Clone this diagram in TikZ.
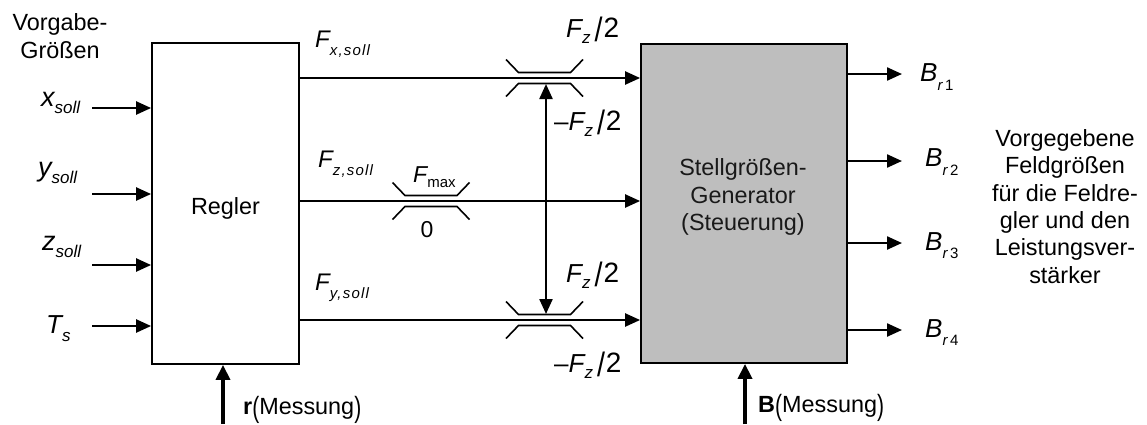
\documentclass[tikz,border=0pt]{standalone}
\usepackage{fontspec}
\setmainfont{Liberation Sans}
\usetikzlibrary{arrows.meta}
\newcommand{\lowsub}[2][-8pt]{\raisebox{#1}{\fontsize{15}{15}\selectfont #2}}
\newcommand{\wsub}[1]{{\addfontfeature{LetterSpace=8}#1}}
\newcommand{\bslash}{\raisebox{-4pt}{\scalebox{1.1}[1.3]{/}}}
\newcommand{\bparen}[1]{\raisebox{-3pt}{\scalebox{0.9}[1.25]{#1}}}
\newcommand{\halfF}{\itshape F\lowsub[-6pt]{\fontsize{17}{17}\selectfont z}\hspace{4pt}\upshape\bslash\hspace{1pt}{\fontsize{28}{28}\selectfont 2}}
\tikzset{
  box/.style={draw, line width=1.8pt, inner sep=0pt},
  arr/.style={line width=2.3pt, -{Triangle[length=15pt,width=13pt]}},
  darr/.style={line width=2.3pt, {Triangle[length=15pt,width=13pt]}-{Triangle[length=15pt,width=13pt]}},
  barr/.style={line width=3.6pt, -{Triangle[length=15pt,width=14pt]}},
  limline/.style={line width=1.6pt},
  lbl/.style={inner sep=0pt, anchor=base west, font=\fontsize{25}{25}\selectfont},
  txt/.style={inner sep=0pt, align=center, font=\fontsize{23.4}{27.4}\selectfont},
  limiter/.pic={
    \draw[limline] (-38.5,-18.5) -- (-26,-5.5) -- (26,-5.5) -- (38.5,-18.5);
    \draw[limline] (-38.5,18.5) -- (-26,5.5) -- (26,5.5) -- (38.5,18.5);
  }
}
\begin{document}
\begin{tikzpicture}[x=1pt,y=-1pt]
\useasboundingbox (0,0) rectangle (1147,424);

% boxes
\node[box, minimum width=147pt, minimum height=321pt] (regler) at (225.5,203.5) {};
\node[txt] (reglertxt) at (225.5,208) {Regler};
\node[box, fill={rgb,255:red,190;green,190;blue,190}, minimum width=206pt, minimum height=319pt] (stell) at (744,203.5) {};
\node[txt, text={rgb,255:red,25;green,25;blue,25}] (stelltxt) at (743,197) {Stellgrößen-\\Generator\\(Steuerung)};

% left inputs
\node[txt] (vorgabe) at (60,36) {Vorgabe-\\Größen};
\coordinate (xs) at (92,108);
\coordinate (ys) at (92,194);
\coordinate (zs) at (92,265);
\coordinate (ts) at (92,326);
\draw[arr] (xs) -- (xs -| regler.west);
\draw[arr] (ys) -- (ys -| regler.west);
\draw[arr] (zs) -- (zs -| regler.west);
\draw[arr] (ts) -- (ts -| regler.west);
\node[lbl, font=\fontsize{27}{27}\selectfont] (xl) at (41,106) {\itshape x\lowsub[-7pt]{\fontsize{17}{17}\selectfont soll}};
\node[lbl, font=\fontsize{27}{27}\selectfont] (yl) at (38,176) {\itshape y\lowsub[-7pt]{\fontsize{17}{17}\selectfont soll}};
\node[lbl, font=\fontsize{27}{27}\selectfont] (zl) at (42,250) {\itshape z\lowsub[-7pt]{\fontsize{17}{17}\selectfont soll}};
\node[lbl, font=\fontsize{26}{26}\selectfont] (tl) at (46,333) {\itshape T\lowsub[-8pt]{\fontsize{17}{17}\selectfont s}};

% limiters
\coordinate (limA) at (544.5,78);
\coordinate (limB) at (431,201);
\coordinate (limC) at (544.5,320);
\pic at (limA) {limiter};
\pic at (limB) {limiter};
\pic at (limC) {limiter};

% main signal lines
\draw[arr] (regler.east |- limA) -- (stell.west |- limA);
\draw[arr] (regler.east |- limB) -- (stell.west |- limB);
\draw[arr] (regler.east |- limC) -- (stell.west |- limC);
\coordinate (vA) at (546,84);
\coordinate (vC) at (546,314);
\draw[darr] (vA) -- (vC);

% F labels
\node[lbl, font=\fontsize{24}{24}\selectfont] (fx) at (315,47) {\itshape F\lowsub[-8.5pt]{\itshape\wsub{x,soll}}};
\node[lbl, font=\fontsize{24}{24}\selectfont] (fz) at (318,167) {\itshape F\lowsub[-8.5pt]{\itshape\wsub{z,soll}}};
\node[lbl, font=\fontsize{24}{24}\selectfont] (fy) at (315,290) {\itshape F\lowsub[-8.5pt]{\itshape\wsub{y,soll}}};
\node[lbl, font=\fontsize{23}{23}\selectfont] (fmax) at (413,182) {\itshape F\lowsub[-5pt]{\upshape max}};
\node[inner sep=0pt, anchor=base, font=\fontsize{23}{23}\selectfont] (zero) at (427,237) {0};

\node[lbl, font=\fontsize{26}{26}\selectfont] (fzA1) at (566,37) {\halfF};
\node[lbl, font=\fontsize{26}{26}\selectfont] (fzA2) at (554,130) {\textendash\halfF};
\node[lbl, font=\fontsize{26}{26}\selectfont] (fzC1) at (566,282) {\halfF};
\node[lbl, font=\fontsize{26}{26}\selectfont] (fzC2) at (554,372) {\textendash\halfF};

% outputs
\coordinate (b1) at (902,74);
\coordinate (b2) at (902,161);
\coordinate (b3) at (902,243);
\coordinate (b4) at (902,330);
\draw[arr] (b1 -| stell.east) -- (b1);
\draw[arr] (b2 -| stell.east) -- (b2);
\draw[arr] (b3 -| stell.east) -- (b3);
\draw[arr] (b4 -| stell.east) -- (b4);
\node[lbl, font=\fontsize{26}{26}\selectfont] (bl1) at (920,81.7) {\itshape B\lowsub[-8.5pt]{\itshape r\,\upshape 1}};
\node[lbl, font=\fontsize{26}{26}\selectfont] (bl2) at (925,166.7) {\itshape B\lowsub[-8.5pt]{\itshape r\,\upshape 2}};
\node[lbl, font=\fontsize{26}{26}\selectfont] (bl3) at (925,250) {\itshape B\lowsub[-8.5pt]{\itshape r\,\upshape 3}};
\node[lbl, font=\fontsize{26}{26}\selectfont] (bl4) at (925,337) {\itshape B\lowsub[-8.5pt]{\itshape r\,\upshape 4}};
\node[txt] (vorgegeben) at (1065,206.5) {Vorgegebene\\Feldgrößen\\für die Feldre-\\gler und den\\Leistungsver-\\stärker};

% measurement inputs
\coordinate (rin) at (223,424);
\coordinate (bin) at (745,424);
\draw[barr] (rin) -- (rin |- regler.south);
\draw[barr] (bin) -- (bin |- stell.south);
\node[lbl, font=\fontsize{23.4}{23.4}\selectfont] (rl) at (243,414) {\textbf{r}\bparen{(}Messung\bparen{)}};
\node[lbl, font=\fontsize{23.4}{23.4}\selectfont] (bl) at (758,412) {\textbf{B}\bparen{(}Messung\bparen{)}};
\end{tikzpicture}
\end{document}
